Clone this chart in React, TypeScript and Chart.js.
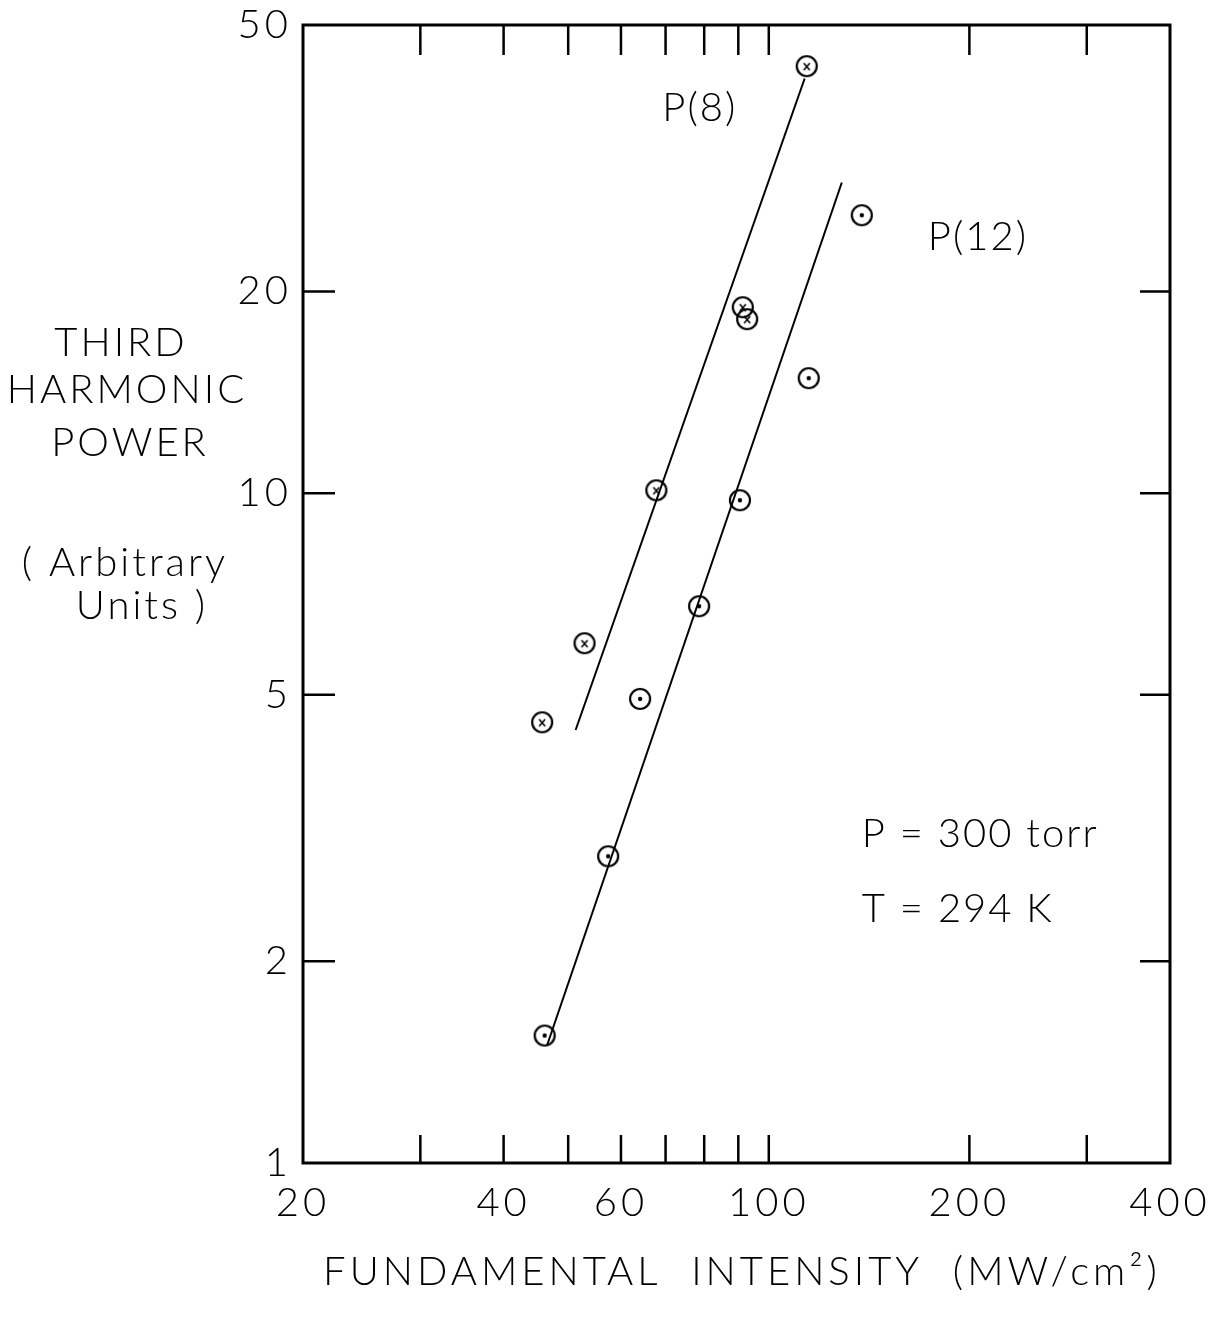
import React, { useEffect, useRef } from 'react';
import { Chart, registerables } from 'chart.js';

Chart.register(...registerables);

// ---- tick values & labels ----
const xTickValues = [20, 30, 40, 50, 60, 70, 80, 90, 100, 200, 300, 400];
const xTickLabels = ['20', '', '40', '', '60', '', '', '', '100', '200', '', '400'];
const yTickValues = [1, 2, 5, 10, 20, 50];
const yTickLabels = ['1', '2', '5', '10', '20', '50'];
const xInnerTicks = [30, 40, 50, 60, 70, 80, 90, 100, 200, 300];
const yInnerTicks = [2, 5, 10, 20];

// ---- series: P(8) (circle with x) ----
const p8X = [45.7, 52.9, 67.8, 91.4, 92.8, 114.0];
const p8Y = [4.55, 5.97, 10.1, 18.95, 18.19, 43.4];
// ---- series: P(12) (circle with dot) ----
const p12X = [46.1, 57.4, 64.1, 78.6, 90.5, 114.8, 137.9];
const p12Y = [1.55, 2.87, 4.93, 6.78, 9.76, 14.85, 26.0];
// ---- fitted lines ----
const p8FitX = [51.3, 113.2];
const p8FitY = [4.43, 41.6];
const p12FitX = [46.5, 128.7];
const p12FitY = [1.5, 29.1];

// ---- annotations (data coordinates) ----
const annotations = [
  { text: 'P(8)', x: 78.8, y: 37.6, align: 'center' },
  { text: 'P(12)', x: 206, y: 24.1, align: 'center' },
  { text: 'P = 300 torr', x: 137.9, y: 3.1, align: 'left' },
  { text: 'T = 294 K', x: 137.9, y: 2.39, align: 'left' },
];

const yTitleLines = ['THIRD', 'HARMONIC', 'POWER', '', '( Arbitrary', 'Units )'];
const xTitle = 'FUNDAMENTAL  INTENSITY  (MW/cm²)';

const FONT = 'Lato, "DejaVu Sans", sans-serif';

function makeMarker(kind: 'x' | 'dot'): HTMLCanvasElement {
  const c = document.createElement('canvas');
  c.width = 26;
  c.height = 26;
  const g = c.getContext('2d')!;
  g.strokeStyle = '#000';
  g.fillStyle = '#000';
  g.lineWidth = 2.2;
  g.beginPath();
  g.arc(13, 13, 10, 0, Math.PI * 2);
  g.stroke();
  if (kind === 'x') {
    g.lineWidth = 1.6;
    g.beginPath();
    g.moveTo(10, 10);
    g.lineTo(16, 17);
    g.moveTo(16, 10);
    g.lineTo(10, 17);
    g.stroke();
  } else {
    g.beginPath();
    g.arc(13, 13, 2.2, 0, Math.PI * 2);
    g.fill();
  }
  return c;
}

export default function App() {
  const ref = useRef<HTMLCanvasElement | null>(null);

  useEffect(() => {
    if (!ref.current) return;
    const markX = makeMarker('x');
    const markDot = makeMarker('dot');

    const framePlugin = {
      id: 'framePlugin',
      beforeDraw(chart: any) {
        const ctx = chart.ctx;
        ctx.save();
        ctx.fillStyle = '#fff';
        ctx.fillRect(0, 0, chart.width, chart.height);
        ctx.restore();
        (ctx as any).letterSpacing = '4px';
      },
      afterDraw(chart: any) {
        const ctx = chart.ctx;
        const a = chart.chartArea;
        const xs = chart.scales.x;
        const ys = chart.scales.y;
        ctx.save();
        ctx.strokeStyle = '#000';
        ctx.lineWidth = 3;
        ctx.strokeRect(a.left, a.top, a.right - a.left, a.bottom - a.top);
        ctx.lineWidth = 2.5;
        ctx.beginPath();
        xInnerTicks.forEach((v) => {
          const px = xs.getPixelForValue(v);
          ctx.moveTo(px, a.top);
          ctx.lineTo(px, a.top + 30);
          ctx.moveTo(px, a.bottom);
          ctx.lineTo(px, a.bottom - 28);
        });
        yInnerTicks.forEach((v) => {
          const py = ys.getPixelForValue(v);
          ctx.moveTo(a.left, py);
          ctx.lineTo(a.left + 32, py);
          ctx.moveTo(a.right, py);
          ctx.lineTo(a.right - 30, py);
        });
        ctx.stroke();

        ctx.fillStyle = '#000';
        ctx.font = `300 40px ${FONT}`;
        (ctx as any).letterSpacing = '2px';
        ctx.textBaseline = 'middle';
        annotations.forEach((an) => {
          ctx.textAlign = an.align as CanvasTextAlign;
          ctx.fillText(an.text, xs.getPixelForValue(an.x), ys.getPixelForValue(an.y));
        });

        // y-axis title (horizontal, stacked lines)
        (ctx as any).letterSpacing = '3px';
        ctx.textAlign = 'center';
        const yPos = [343, 390, 443, 500, 563, 606];
        const xPos = [121, 127, 130, 125, 125, 142];
        yTitleLines.forEach((t, i) => {
          if (t) ctx.fillText(t, xPos[i], yPos[i]);
        });

        // x-axis title
        (ctx as any).letterSpacing = '4px';
        ctx.fillText(xTitle, 742, 1272);
        ctx.restore();
      },
    };

    const chart = new Chart(ref.current, {
      type: 'scatter',
      data: {
        datasets: [
          {
            label: 'P(8) fit',
            data: p8FitX.map((x, i) => ({ x, y: p8FitY[i] })),
            showLine: true,
            borderColor: '#000',
            borderWidth: 2,
            pointRadius: 0,
          },
          {
            label: 'P(12) fit',
            data: p12FitX.map((x, i) => ({ x, y: p12FitY[i] })),
            showLine: true,
            borderColor: '#000',
            borderWidth: 2,
            pointRadius: 0,
          },
          {
            label: 'P(8)',
            data: p8X.map((x, i) => ({ x, y: p8Y[i] })),
            pointStyle: markX as any,
            pointRadius: 11,
          },
          {
            label: 'P(12)',
            data: p12X.map((x, i) => ({ x, y: p12Y[i] })),
            pointStyle: markDot as any,
            pointRadius: 11,
          },
        ],
      },
      options: {
        animation: false,
        responsive: true,
        maintainAspectRatio: false,
        layout: { padding: { top: 25, right: 48, bottom: 0, left: 0 } },
        plugins: {
          legend: { display: false },
          tooltip: { enabled: false },
        },
        events: [],
        scales: {
          x: {
            type: 'logarithmic',
            min: 20,
            max: 400,
            afterBuildTicks: (s: any) => {
              s.ticks = xTickValues.map((v) => ({ value: v }));
            },
            afterFit: (s: any) => {
              s.height = 154;
              s.paddingLeft = 0;
              s.paddingRight = 0;
            },
            grid: { display: false, drawTicks: false },
            border: { display: false },
            ticks: {
              autoSkip: false,
              maxRotation: 0,
              padding: 16,
              color: '#000',
              font: { family: FONT, size: 40, weight: '300' as any },
              callback: (_v: any, i: number) => xTickLabels[i],
            },
          },
          y: {
            type: 'logarithmic',
            min: 1,
            max: 50,
            afterBuildTicks: (s: any) => {
              s.ticks = yTickValues.map((v) => ({ value: v }));
            },
            afterFit: (s: any) => {
              s.width = 303;
              s.paddingTop = 0;
              s.paddingBottom = 0;
            },
            grid: { display: false, drawTicks: false },
            border: { display: false },
            ticks: {
              autoSkip: false,
              padding: 11,
              color: '#000',
              font: { family: FONT, size: 40, weight: '300' as any },
              callback: (_v: any, i: number) => yTickLabels[i],
            },
          },
        },
      },
      plugins: [framePlugin],
    });
    return () => chart.destroy();
  }, []);

  return (
    <div style={{ position: 'absolute', left: 0, top: 0, width: 1218, height: 1317, background: '#fff' }}>
      <canvas ref={ref} />
    </div>
  );
}
